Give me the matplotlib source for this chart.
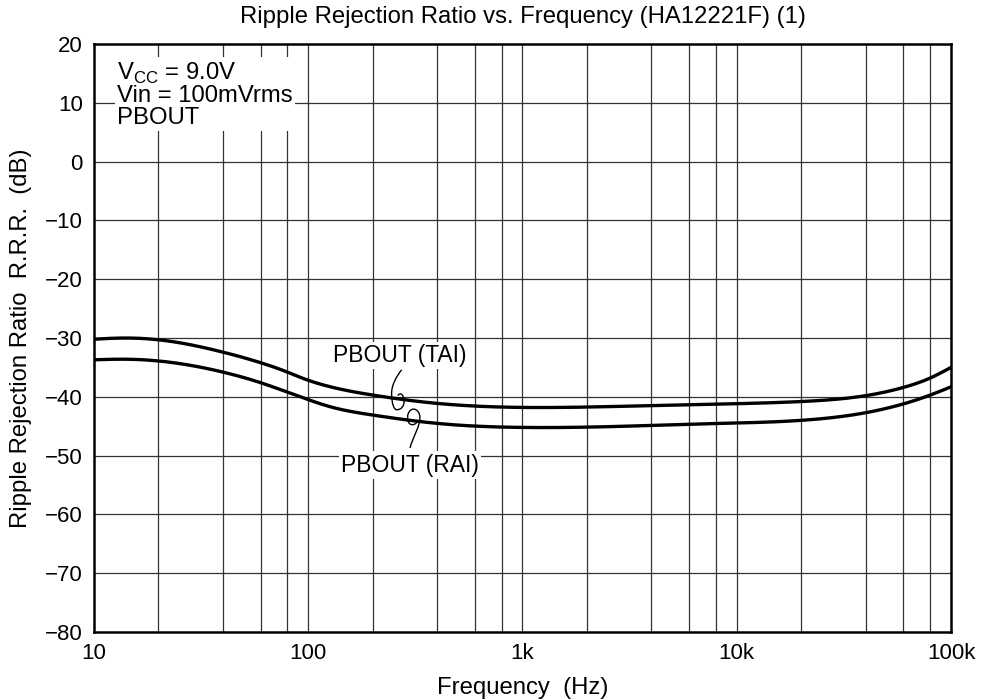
import matplotlib
matplotlib.use("Agg")
import matplotlib.pyplot as plt
import numpy as np
from matplotlib.path import Path
from matplotlib.patches import PathPatch

plt.rcParams['font.family'] = ['Liberation Sans', 'DejaVu Sans']

# values
freq = [10, 13.7, 20, 39, 60, 80, 92, 127, 200, 395, 980, 3000, 6800, 20000, 40000, 60000, 80000, 100000]
tai_db = [-30.2, -30.0, -30.3, -32.3, -34.2, -35.8, -36.7, -38.3, -39.7, -41.1, -41.8, -41.6, -41.3, -40.8, -39.8, -38.4, -36.8, -35.0]
rai_db = [-33.7, -33.6, -33.9, -35.7, -37.6, -39.2, -40.0, -41.7, -43.1, -44.5, -45.2, -45.0, -44.6, -44.0, -42.7, -41.2, -39.7, -38.3]

x_ticks = [10, 100, 1000, 10000, 100000]
x_ticklabels = ['10', '100', '1k', '10k', '100k']
y_ticks = list(range(-80, 21, 10))


def spline(xs, ys, xq):
    # natural cubic spline
    xs = np.asarray(xs, float)
    ys = np.asarray(ys, float)
    n = len(xs)
    h = np.diff(xs)
    A = np.zeros((n, n))
    b = np.zeros(n)
    A[0, 0] = A[-1, -1] = 1
    for i in range(1, n - 1):
        A[i, i - 1] = h[i - 1]
        A[i, i] = 2 * (h[i - 1] + h[i])
        A[i, i + 1] = h[i]
        b[i] = 3 * ((ys[i + 1] - ys[i]) / h[i] - (ys[i] - ys[i - 1]) / h[i - 1])
    c = np.linalg.solve(A, b)
    idx = np.clip(np.searchsorted(xs, xq) - 1, 0, n - 2)
    dx = xq - xs[idx]
    bb = (ys[idx + 1] - ys[idx]) / h[idx] - h[idx] * (2 * c[idx] + c[idx + 1]) / 3
    dd = (c[idx + 1] - c[idx]) / (3 * h[idx])
    return ys[idx] + bb * dx + c[idx] * dx ** 2 + dd * dx ** 3


fig = plt.figure(figsize=(9.86, 7.0), dpi=100)
ax = fig.add_axes([0.0953, 0.0971, 0.8692, 0.8400])

lf = np.log10(freq)
fine = np.linspace(lf[0], lf[-1], 500)
ax.plot(10 ** fine, spline(lf, tai_db, fine), color='black', lw=2.4, zorder=3)
ax.plot(10 ** fine, spline(lf, rai_db, fine), color='black', lw=2.4, zorder=3)

ax.set_xscale('log')
ax.set_xlim(10, 100000)
ax.set_ylim(-80, 20)

grid_x = [m * 10 ** e for e in range(1, 5) for m in (1, 2, 4, 6, 8)]
for gx in grid_x[1:]:
    ax.axvline(gx, color='#333333', lw=0.9, zorder=1)
for gy in y_ticks[1:-1]:
    ax.axhline(gy, color='#333333', lw=0.9, zorder=1)

ax.set_xticks(x_ticks)
ax.set_xticklabels(x_ticklabels)
ax.set_xticks([], minor=True)
ax.set_yticks(y_ticks)
ax.tick_params(length=0, labelsize=16, pad=8)
for s in ax.spines.values():
    s.set_linewidth(1.8)

ax.set_title('Ripple Rejection Ratio vs. Frequency (HA12221F) (1)', fontsize=17.2, pad=15)
ax.set_xlabel('Frequency  (Hz)', fontsize=17.2, labelpad=9)
ax.set_ylabel('Ripple Rejection Ratio  R.R.R.  (dB)', fontsize=17.2, labelpad=9)

box = dict(facecolor='white', edgecolor='none', pad=1.5)
ax.text(0.027, 0.972, 'V$_{\\mathregular{CC}}$ = 9.0V\nVin = 100mVrms\nPBOUT',
        transform=ax.transAxes, fontsize=17.2, va='top', ha='left',
        linespacing=0.98, bbox=box, zorder=4)
ax.text(268, -32.9, 'PBOUT (TAI)', fontsize=16.5, ha='center', va='center', bbox=box, zorder=4)
ax.text(299, -51.6, 'PBOUT (RAI)', fontsize=16.5, ha='center', va='center', bbox=box, zorder=4)

# leader squiggles
c4 = [Path.MOVETO] + [Path.CURVE4] * 12
tai_leader = Path([(273, -35.4), (258, -36.5), (245, -38.0), (245, -39.4),
                   (245, -41.3), (252, -42.2), (259, -42.2),
                   (272, -42.2), (282, -41.5), (280, -40.6),
                   (278, -39.5), (268, -39.2), (262, -39.8)], c4)
rai_leader = Path([(298.5, -48.7), (310, -46.5), (334, -45.0), (332, -43.4),
                   (330, -42.2), (310, -41.8), (300, -42.3),
                   (288, -42.8), (288, -44.2), (298, -44.6),
                   (306, -44.9), (316, -44.7), (322, -44.3)], c4)
for p in (tai_leader, rai_leader):
    ax.add_patch(PathPatch(p, facecolor='none', edgecolor='black', lw=1.0, zorder=5))

fig.savefig('out.png', dpi=100)
